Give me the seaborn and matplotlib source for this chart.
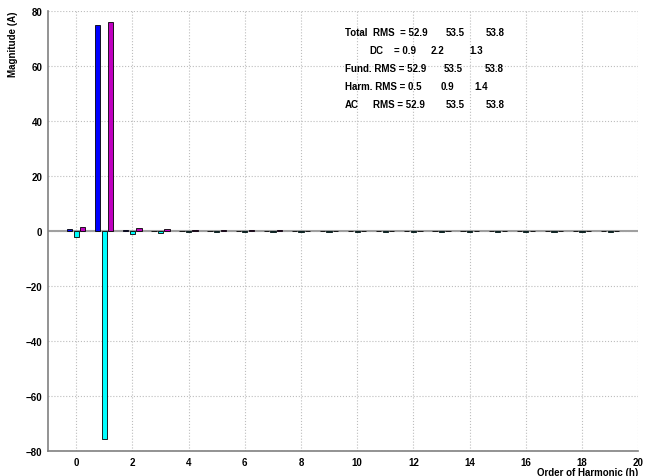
import numpy as np
import pandas as pd
import seaborn as sns
import matplotlib
matplotlib.use('Agg')
import matplotlib.pyplot as plt

# harmonic order and magnitude of each phase
harmonics = list(range(20))
phase_a = [0.9, 75.0, 0.3, 0.1, 0.1, 0.1, 0.1, 0.1, 0.1, 0.1,
           0.1, 0.1, 0.1, 0.1, 0.1, 0.1, 0.1, 0.1, 0.1, 0.1]
phase_b = [-2.2, -75.5, -0.9, -0.6, -0.5, -0.4, -0.3, -0.3, -0.3, -0.3,
           -0.3, -0.3, -0.3, -0.3, -0.3, -0.3, -0.3, -0.3, -0.3, -0.3]
phase_c = [1.3, 76.0, 1.1, 0.7, 0.4, 0.3, 0.3, 0.3, 0.2, 0.2,
           0.2, 0.2, 0.2, 0.2, 0.2, 0.2, 0.2, 0.2, 0.2, 0.2]
colors = ['#0000ff', '#00ffff', '#bf00bf']

# summary text shown on the plot
summary_rows = [
    ['Total  RMS  = 52.9', '53.5', '53.8'],
    ['DC', '= 0.9', '2.2', '1.3'],
    ['Fund. RMS = 52.9', '53.5', '53.8'],
    ['Harm. RMS = 0.5', '0.9', '1.4'],
    ['AC', 'RMS = 52.9', '53.5', '53.8'],
]

df = pd.DataFrame({
    'h': harmonics * 3,
    'val': phase_a + phase_b + phase_c,
    'phase': ['A'] * 20 + ['B'] * 20 + ['C'] * 20,
})

sns.set_style('white')
plt.rcParams['font.family'] = ['Liberation Sans', 'DejaVu Sans']
plt.rcParams['font.size'] = 7
plt.rcParams['font.weight'] = 'bold'
plt.rcParams['text.color'] = 'black'
plt.rcParams['axes.labelcolor'] = 'black'
plt.rcParams['xtick.labelcolor'] = 'black'
plt.rcParams['ytick.labelcolor'] = 'black'

fig = plt.figure(figsize=(6.58, 4.77), dpi=100)
ax = fig.add_axes([0.073, 0.052, 0.897, 0.923])

sns.barplot(data=df, x='h', y='val', hue='phase', palette=colors,
            width=0.7, gap=0.2, edgecolor='black', linewidth=0.6,
            saturation=1, legend=False, ax=ax, zorder=3)

ax.set_xlim(-1, 20)
ax.set_ylim(-80, 80)
ax.set_xticks(range(0, 21, 2))
ax.set_xticklabels([str(t) for t in range(0, 21, 2)])
ax.set_yticks(range(-80, 81, 20))
ax.grid(True, linestyle=':', color='#bdbdbd', linewidth=0.8)
ax.axhline(0, color='#a0a0a0', linewidth=1.5, zorder=2)

for s in ['top', 'right']:
    ax.spines[s].set_visible(False)
for s in ['left', 'bottom']:
    ax.spines[s].set_color('#808080')
    ax.spines[s].set_linewidth(1.2)
ax.tick_params(direction='in', length=4, color='#808080', width=1, labelsize=7, pad=4)

ax.set_xlabel('Order of Harmonic (h)', loc='right', fontsize=7, fontweight='bold', labelpad=0)
ax.set_ylabel('Magnitude (A)', loc='top', fontsize=7, fontweight='bold', labelpad=6)

# place summary text
row_y = [72.4, 65.8, 59.3, 52.7, 46.2]
row_x = [[9.56, 13.14, 14.56],
         [10.44, 11.3, 12.61, 14.0],
         [9.56, 13.07, 14.53],
         [9.56, 12.97, 14.17],
         [9.56, 10.55, 13.14, 14.56]]
for y, xs, texts in zip(row_y, row_x, summary_rows):
    for x, t in zip(xs, texts):
        ax.text(x, y, t, fontsize=7, fontweight='bold', va='center', ha='left')

fig.savefig('out.png', dpi=100)
